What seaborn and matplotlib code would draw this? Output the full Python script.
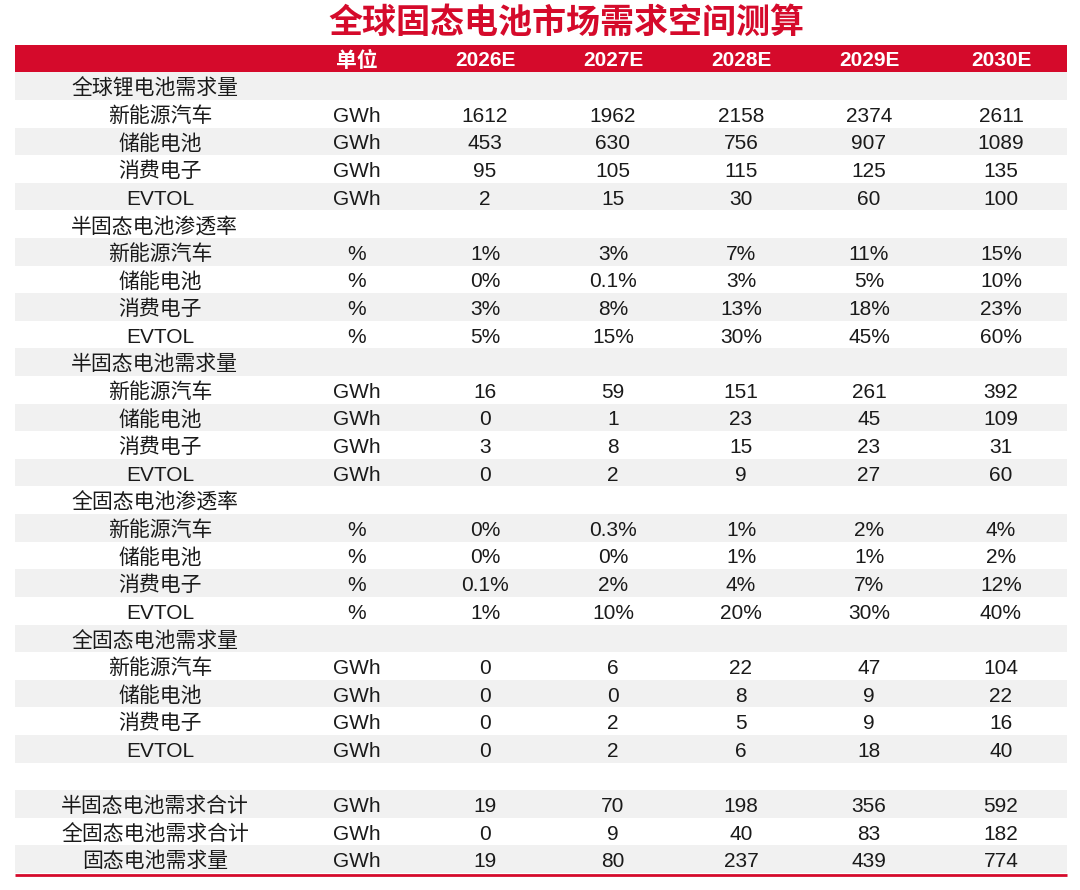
import numpy as np
import matplotlib
matplotlib.use("Agg")
import matplotlib.pyplot as plt
import seaborn as sns
from matplotlib.colors import ListedColormap

# ---- data ----
title = '全球固态电池市场需求空间测算'
unit_head = '单位'
years = ['2026E', '2027E', '2028E', '2029E', '2030E']
segments = ['新能源汽车', '储能电池', '消费电子', 'EVTOL']

sections = ['全球锂电池需求量', '半固态电池渗透率', '半固态电池需求量', '全固态电池渗透率', '全固态电池需求量']
section_units = ['GWh', '%', 'GWh', '%', 'GWh']

li_demand = [[1612, 1962, 2158, 2374, 2611],
             [453, 630, 756, 907, 1089],
             [95, 105, 115, 125, 135],
             [2, 15, 30, 60, 100]]
semi_pen = [['1%', '3%', '7%', '11%', '15%'],
            ['0%', '0.1%', '3%', '5%', '10%'],
            ['3%', '8%', '13%', '18%', '23%'],
            ['5%', '15%', '30%', '45%', '60%']]
semi_demand = [[16, 59, 151, 261, 392],
               [0, 1, 23, 45, 109],
               [3, 8, 15, 23, 31],
               [0, 2, 9, 27, 60]]
full_pen = [['0%', '0.3%', '1%', '2%', '4%'],
            ['0%', '0%', '1%', '1%', '2%'],
            ['0.1%', '2%', '4%', '7%', '12%'],
            ['1%', '10%', '20%', '30%', '40%']]
full_demand = [[0, 6, 22, 47, 104],
               [0, 0, 8, 9, 22],
               [0, 2, 5, 9, 16],
               [0, 2, 6, 18, 40]]

total_labels = ['半固态电池需求合计', '全固态电池需求合计', '固态电池需求量']
total_units = ['GWh', 'GWh', 'GWh']
semi_total = [19, 70, 198, 356, 592]
full_total = [0, 9, 40, 83, 182]
solid_total = [19, 80, 237, 439, 774]

# ---- build rows: (kind, label, unit, values) ----
rows = []
for name, unit, block in zip(sections, section_units,
                             [li_demand, semi_pen, semi_demand, full_pen, full_demand]):
    rows.append(('section', name, '', []))
    for seg, vals in zip(segments, block):
        rows.append(('item', seg, unit, [str(v) for v in vals]))
rows.append(('blank', '', '', []))
for lab, unit, vals in zip(total_labels, total_units, [semi_total, full_total, solid_total]):
    rows.append(('total', lab, unit, [str(v) for v in vals]))

RED = '#D50A2B'
GREY = '#F1F1F1'
TXT = '#1A1A1A'
FONT = ['Liberation Sans', 'Noto Sans CJK SC', 'DejaVu Sans']

# stripe matrix: header = 2 (red), even rows grey (0), odd rows white (1)
stripe = np.array([2] + [i % 2 for i in range(len(rows))], dtype=float)[:, None]

W, H = 1080, 890
fig = plt.figure(figsize=(W / 100, H / 100), dpi=100)
left, right, top, bottom = 15, 1067, 44.7, 873
ax = fig.add_axes([left / W, 1 - bottom / H, (right - left) / W, (bottom - top) / H])
sns.heatmap(stripe, ax=ax, cmap=ListedColormap([GREY, 'white', RED]), vmin=0, vmax=2,
            cbar=False, xticklabels=False, yticklabels=False, linewidths=0)
ax.set_axis_off()


def fx(px):
    return (px - left) / (right - left)


col_x = [fx(p) for p in [485, 613, 741, 869, 1001]]
unit_x = fx(357)
sec_x = fx(71)
item_x = fx(160)
total_x = fx(155)
fs = 15
dy = 0.09  # nudge text down to sit like the reference

# header
ax.text(unit_x, 0.5 + dy, unit_head, ha='center', va='center', color='white', fontsize=15,
        fontweight='bold', family=FONT)
for x, y in zip(col_x, years):
    ax.text(x, 0.5 + dy, y, ha='center', va='center', color='white', fontsize=15,
            fontweight='bold', family=FONT)

for i, (kind, label, unit, vals) in enumerate(rows):
    yc = i + 1.5 + dy
    if kind == 'section':
        ax.text(sec_x, yc, label, ha='left', va='center', color=TXT, fontsize=fs, family=FONT)
    elif kind in ('item', 'total'):
        ax.text(item_x if kind == 'item' else total_x, yc, label, ha='center', va='center',
                color=TXT, fontsize=fs, family=FONT)
        ax.text(unit_x, yc, unit, ha='center', va='center', color=TXT, fontsize=fs, family=FONT)
        for x, v in zip(col_x, vals):
            ax.text(x, yc, v, ha='center', va='center', color=TXT, fontsize=fs, family=FONT)

# bottom red rule
n = len(rows) + 1
ax.plot([0, 1], [n + 0.08, n + 0.08], color=RED, lw=2.0, clip_on=False, solid_capstyle='butt')

fig.text(566 / W, 1 - 22 / H, title, ha='center', va='center', color=RED, fontsize=24.5,
         fontweight='bold', family=['Noto Sans CJK SC', 'DejaVu Sans'])

fig.savefig('out.png', dpi=100)
